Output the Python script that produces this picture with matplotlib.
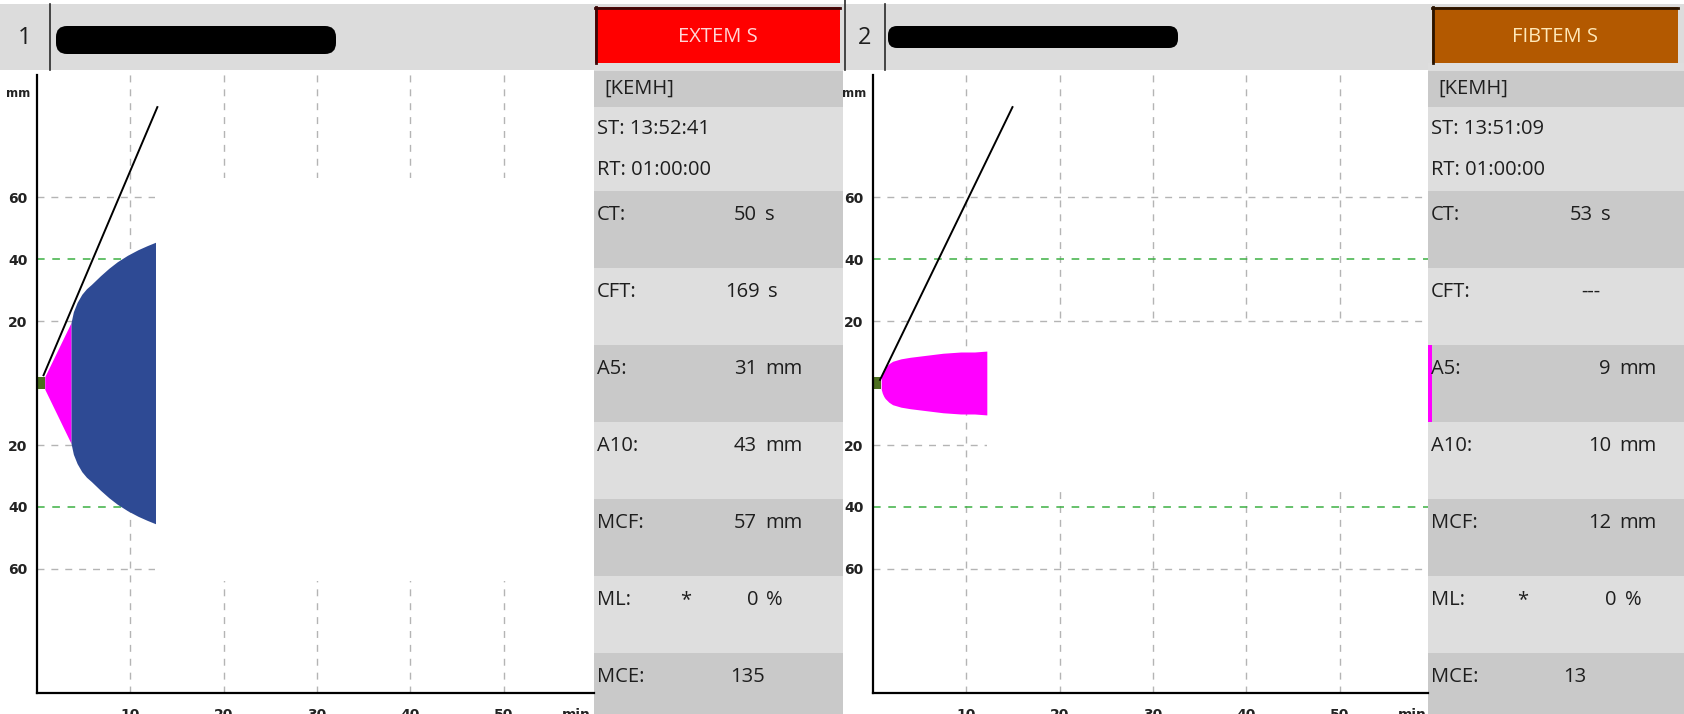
import numpy as np
import matplotlib
matplotlib.use("Agg")
import matplotlib.pyplot as plt
from matplotlib.patches import Rectangle, FancyBboxPatch

# result table for both channels
param_names = ["CT:", "CFT:", "A5:", "A10:", "MCF:", "ML:", "MCE:"]
extem_values = ["50", "169", "31", "43", "57", "0", "135"]
extem_units = ["s", "s", "mm", "mm", "mm", "%", ""]
fibtem_values = ["53", "---", "9", "10", "12", "0", "13"]
fibtem_units = ["s", "", "mm", "mm", "mm", "%", ""]

extem_ct = 50     # s
extem_cft = 169   # s
fibtem_ct = 53    # s, CFT not reached

# clot amplitude (mm) against run time (min)
extem_time = [0.83, 2.2, 3.65, 3.9, 4.3, 4.8, 5.3, 5.83, 6.8, 7.7, 8.6, 9.7, 10.83, 11.8, 12.7]
extem_amp = [2, 10.5, 19.5, 23, 26, 28.6, 30.4, 31.8, 34.6, 37.0, 39.1, 41.2, 43, 44.3, 45.4]
fibtem_time = [0.88, 1.0, 1.15, 1.3, 1.7, 2.1, 3.0, 4.0, 5.88, 7.5, 9.4, 10.88, 12.2]
fibtem_amp = [2, 3.3, 4.3, 5, 6.2, 7, 7.8, 8.3, 9, 9.6, 10, 10, 10.3]

# alpha-angle tangent
extem_tangent_time = [0.7, 12.9]
extem_tangent_amp = [2.5, 89]
fibtem_tangent_time = [0.75, 14.95]
fibtem_tangent_amp = [1, 89]

x_ticks = [10, 20, 30, 40, 50]
y_ticks = [-60, -40, -20, 20, 40, 60]

HEAD = "#dcdcdc"
DARK = "#c9c9c9"
LIGHT = "#dedede"
GRID = "#b4b4b4"
GREEN_GRID = "#3cb043"
MAGENTA = "#ff00ff"
BLUE = "#2e4a94"
CT_GREEN = "#4b6e1f"
UI_FONT = ["Open Sans", "DejaVu Sans"]
AX_FONT = ["DejaVu Sans"]

W, H = 1684, 714
fig = plt.figure(figsize=(W / 100, H / 100), dpi=100)
fig.patch.set_facecolor("white")

# pixel-space layer for the instrument frame
bg = fig.add_axes([0, 0, 1, 1])
bg.set_xlim(0, W)
bg.set_ylim(H, 0)
bg.axis("off")


def box(x0, y0, x1, y1, color, z=1):
    bg.add_patch(Rectangle((x0, y0), x1 - x0, y1 - y0, facecolor=color,
                           edgecolor="none", zorder=z))


def txt(x, y, s, ha="left", size=14.5, color="#1e1e1e", **kw):
    bg.text(x, y, s, ha=ha, va="center", fontsize=size, color=color,
            family=UI_FONT, zorder=5, **kw)


# header strip
box(0, 4, W, 70, HEAD)
for xs, y0 in [(50, 4), (845, 0), (885, 4)]:
    bg.plot([xs, xs], [y0, 70], color="#2a2a2a", lw=1.2, zorder=3)
txt(25, 38, "1", ha="center", size=17)
txt(865, 38, "2", ha="center", size=17)

# scribbled-out patient names
bg.add_patch(FancyBboxPatch((58, 28), 276, 24, boxstyle="round,pad=2,rounding_size=11",
                            facecolor="black", edgecolor="none", zorder=4))
bg.add_patch(FancyBboxPatch((890, 28), 286, 18, boxstyle="round,pad=2,rounding_size=9",
                            facecolor="black", edgecolor="none", zorder=4))

# test name tabs
box(595, 7, 840, 63, "#ff0000", z=2)
bg.plot([595, 840], [8, 8], color="#3a0808", lw=2, zorder=3)
bg.plot([596, 596], [7, 63], color="#3a0808", lw=2, zorder=3)
txt(718, 37, "EXTEM S", ha="center", color="#ffd6d6")
box(1432, 7, 1678, 63, "#b35900", z=2)
bg.plot([1432, 1678], [8, 8], color="#2a1400", lw=2, zorder=3)
bg.plot([1433, 1433], [7, 63], color="#2a1400", lw=2, zorder=3)
txt(1555, 37, "FIBTEM S", ha="center", color="#ffe8b8")

row_edges = [71, 107, 191, 268, 345, 422, 499, 576, 653, 714]
row_cols = [DARK, LIGHT, DARK, LIGHT, DARK, LIGHT, DARK, LIGHT, DARK]

# right edge of each value column entry, pixels
extem_value_right = [757, 760, 757, 757, 757, 758, 765]
fibtem_value_right = [1593, 1600, 1611, 1611, 1611, 1617, 1586]


def info_panel(x0, x1, values, units, start, value_right, star_x):
    box(x0, 63, x1, 71, LIGHT)
    for i, c in enumerate(row_cols):
        box(x0, row_edges[i], x1, row_edges[i + 1], c)
    txt(x0 + 10, 89, "[KEMH]")
    txt(x0 + 3, 129, "ST: " + start)
    txt(x0 + 3, 170, "RT: 01:00:00")
    for i, name in enumerate(param_names):
        y = row_edges[i + 2] + 24
        txt(x0 + 3, y, name)
        txt(value_right[i], y, values[i], ha="right")
        if units[i]:
            txt(value_right[i] + 8, y, units[i])
        if name == "ML:":
            txt(star_x, y, "*")


info_panel(594, 843, extem_values, extem_units, "13:52:41", extem_value_right, 680)
info_panel(1428, W, fibtem_values, fibtem_units, "13:51:09", fibtem_value_right, 1517)
# A5 row marker on the FIBTEM panel
box(1426, 345, 1432, 422, MAGENTA, z=3)

PX_MIN = 9.33   # pixels per minute
TOP, BOTTOM, MID = 75, 693, 383
PX_MM = 3.1


def trace_panel(left, right, time, amp, ct, cft, tan_t, tan_a, blank):
    ax = fig.add_axes([left / W, (H - BOTTOM) / H, (right - left) / W, (BOTTOM - TOP) / H])
    ax.set_facecolor("none")
    xmax = (right - left) / PX_MIN
    ax.set_xlim(0, xmax)
    ax.set_ylim(-(BOTTOM - MID) / PX_MM, (MID - TOP) / PX_MM)

    dash = (0, (5, 5))
    ax.vlines(x_ticks, -100, 100, colors=GRID, linestyles=dash, lw=1, zorder=1)
    ax.hlines([-60, -20, 20, 60], 0, xmax, colors=GRID, linestyles=dash, lw=1, zorder=1)
    ax.hlines([-40, 40], 0, xmax, colors=GREEN_GRID, linestyles=dash, lw=1.1, zorder=1)

    # cleared area ahead of the running trace
    bx, by0, by1 = blank
    ax.add_patch(Rectangle((bx, by0), xmax - bx, by1 - by0, facecolor="white",
                           edgecolor="none", zorder=2))

    t = np.array(time)
    a = np.array(amp)
    ct_min = ct / 60
    ax.fill_between([0, ct_min], -2, 2, color=CT_GREEN, lw=0, zorder=3)
    if cft is None:
        ax.fill_between(t, -a, a, color=MAGENTA, lw=0, zorder=3)
    else:
        split = (ct + cft) / 60
        ax.fill_between(t, -a, a, where=t <= split + 1e-9, color=MAGENTA, lw=0, zorder=3)
        ax.fill_between(t, -a, a, where=t >= split - 1e-9, color=BLUE, lw=0, zorder=3)
    ax.plot(tan_t, tan_a, color="black", lw=1.4, zorder=4)

    for s in ["top", "right"]:
        ax.spines[s].set_visible(False)
    for s in ["left", "bottom"]:
        ax.spines[s].set_linewidth(1.6)
        ax.spines[s].set_zorder(5)

    ax.set_xticks(x_ticks)
    ax.set_xticklabels([str(v) for v in x_ticks])
    ax.set_yticks(y_ticks)
    ax.set_yticklabels([str(abs(v)) for v in y_ticks])
    ax.tick_params(length=0)
    ax.tick_params(axis="x", pad=11)
    ax.tick_params(axis="y", pad=7)
    for lab in ax.get_xticklabels() + ax.get_yticklabels():
        lab.set_family(AX_FONT)
        lab.set_fontweight("bold")
        lab.set_fontsize(10)
        lab.set_color("#222222")
    ax.text(57.8, -0.024, "min", transform=ax.get_xaxis_transform(), ha="center",
            va="top", fontsize=10, fontweight="bold", family=AX_FONT, color="#222222")
    ax.text(-0.012, 0.97, "mm", transform=ax.transAxes, ha="right", va="center",
            fontsize=8.5, fontweight="bold", family=AX_FONT, color="#222222")
    return ax


trace_panel(37, 594, extem_time, extem_amp, extem_ct, extem_cft,
            extem_tangent_time, extem_tangent_amp, (12.7, -64, 66))
trace_panel(873, 1428, fibtem_time, fibtem_amp, fibtem_ct, None,
            fibtem_tangent_time, fibtem_tangent_amp, (12.2, -35, 19))

fig.savefig("out.png", dpi=100, facecolor="white")
